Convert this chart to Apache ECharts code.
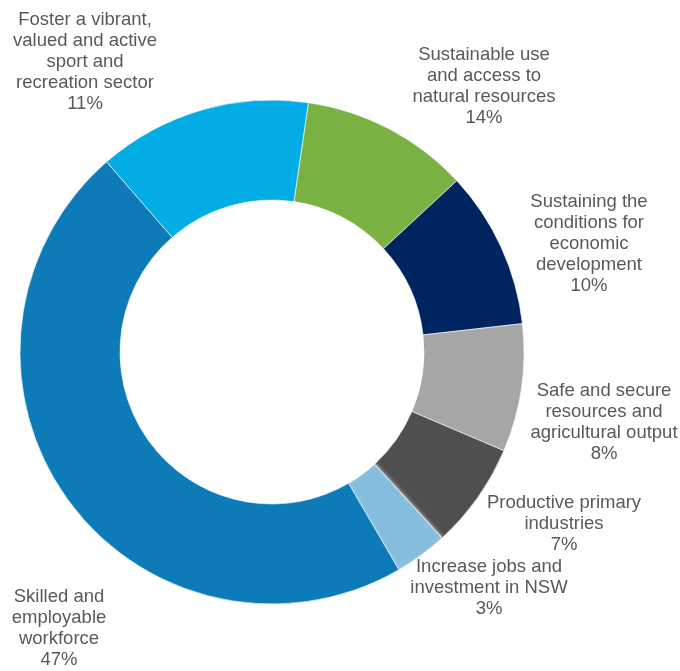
<!DOCTYPE html>
<html>
<head>
<meta charset="utf-8">
<script src="https://cdn.jsdelivr.net/npm/echarts@6/dist/echarts.min.js"></script>
<style>
html,body{margin:0;padding:0;background:#fff;}
#chart{width:680px;height:671px;}
</style>
</head>
<body>
<div id="chart"></div>
<script>
// Slice order, clockwise from just right of 12 o'clock
const categories = [
  'Sustainable use\nand access to\nnatural resources',
  'Sustaining the\nconditions for\neconomic\ndevelopment',
  'Safe and secure\nresources and\nagricultural output',
  'Productive primary\nindustries',
  'Increase jobs and\ninvestment in NSW',
  'Skilled and\nemployable\nworkforce',
  'Foster a vibrant,\nvalued and active\nsport and\nrecreation sector'
];
const values = [10.8, 10.1, 8.2, 6.8, 3.4, 47.0, 13.7];
// percentage text as printed on the chart
const pctLabels = ['14%', '10%', '8%', '7%', '3%', '47%', '11%'];

const colors = ['#79B143', '#00245F', '#A6A6A6', '#4F4F4F', '#84BDDD', '#0C7BB8', '#02ACE4'];
// label block centres (layout only)
const labelPos = [
  [484, 86], [589, 244], [604, 422], [564, 524], [489, 588], [59, 628], [85, 62]
];

const chart = echarts.init(document.getElementById('chart'), null, {renderer: 'canvas'});
chart.setOption({
  animation: false,
  backgroundColor: '#fff',
  series: [{
    type: 'pie',
    center: [272, 352],
    radius: [152, 252],
    startAngle: 81.7,
    clockwise: true,
    avoidLabelOverlap: false,
    data: categories.map((c, i) => ({
      name: c,
      value: values[i],
      itemStyle: Object.assign({color: colors[i]},
        i === 4 ? {shadowColor: 'rgba(255,255,255,0.9)', shadowBlur: 4} : {})
    })),
    itemStyle: {borderColor: '#ffffff', borderWidth: 0.6},
    label: {
      show: true,
      position: 'outside',
      formatter: p => categories[p.dataIndex] + '\n' + pctLabels[p.dataIndex],
      fontFamily: '"Liberation Sans", Arial, sans-serif',
      fontSize: 18.5,
      lineHeight: 21,
      color: '#595959',
      align: 'center'
    },
    labelLine: {show: false},
    labelLayout: p => ({
      x: labelPos[p.dataIndex][0],
      y: labelPos[p.dataIndex][1],
      align: 'center',
      verticalAlign: 'middle',
      hideOverlap: false
    }),
    emphasis: {disabled: true}
  }]
});
</script>
</body>
</html>
